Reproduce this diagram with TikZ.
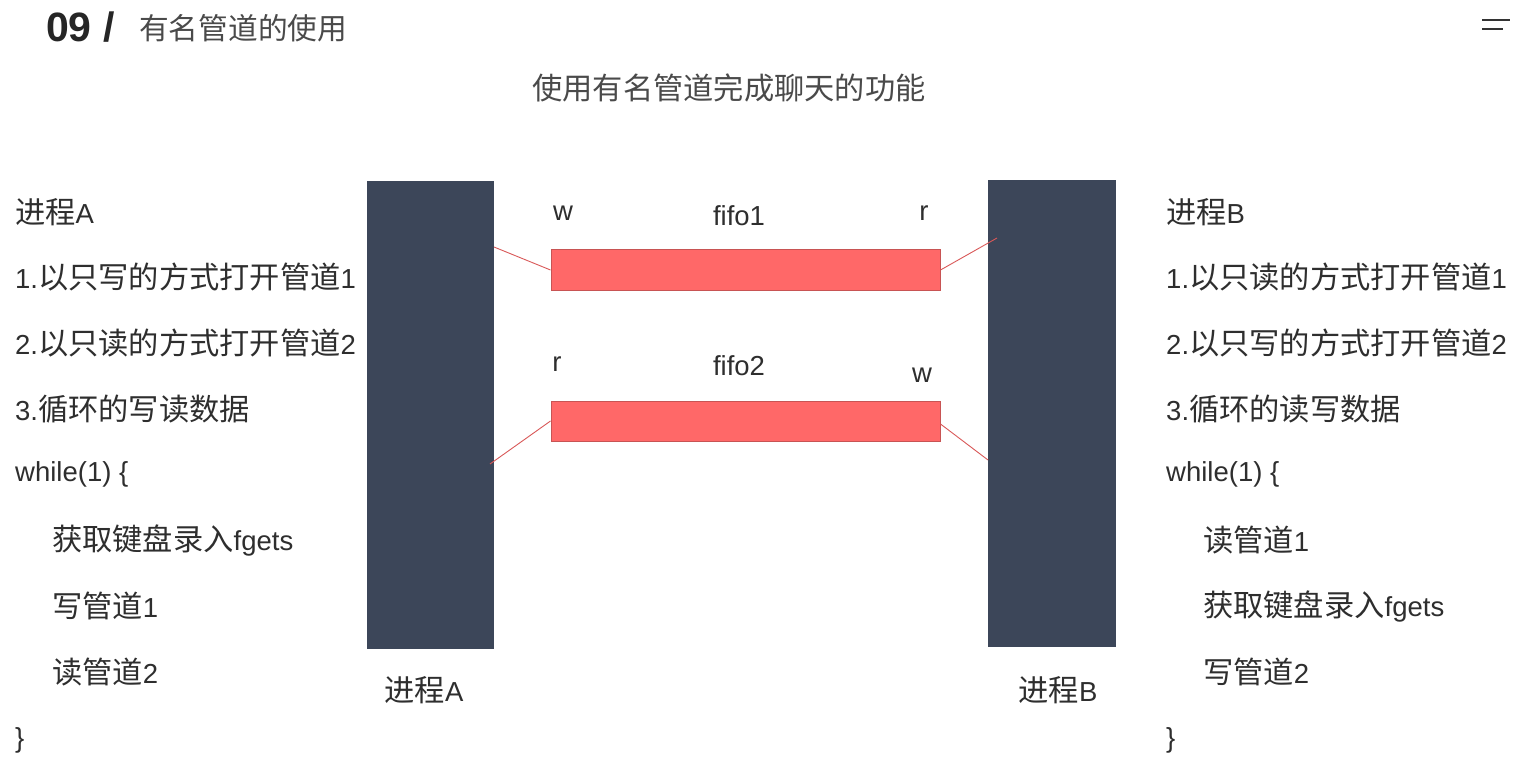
\documentclass[tikz,border=0pt]{standalone}
\usepackage{fontspec}
\setmainfont{Liberation Sans}
\newfontfamily\cjk[Scale=1.1]{Noto Sans CJK SC}
\newcommand\zh[1]{{\cjk #1}}
\definecolor{barcol}{HTML}{3C4659}
\definecolor{pipefill}{HTML}{FF6868}
\definecolor{pipeedge}{HTML}{C85454}
\definecolor{txt}{HTML}{2E2E2E}
\definecolor{ttl}{HTML}{4A4A4A}
\begin{document}
\begin{tikzpicture}[x=1pt,y=-1pt,
  txtnode/.style={inner sep=0pt,anchor=west,text=txt,font=\fontsize{27.5}{32}\selectfont},
  lbl/.style={inner sep=0pt,text=txt,font=\fontsize{27.5}{32}\selectfont},
  procbar/.style={draw=none,fill=barcol,minimum width=127pt,inner sep=0pt},
  pipebox/.style={draw=pipeedge,line width=1pt,fill=pipefill,minimum width=389pt,minimum height=40pt,inner sep=0pt},
  link/.style={draw=pipefill!85!black,line width=0.9pt}]
\useasboundingbox (0,0) rectangle (1516,762);
\fill[white] (0,0) rectangle (1516,762);
% title
\node[inner sep=0pt,anchor=west,text=black!85,font=\fontsize{41}{44}\selectfont\bfseries] (t0) at (46,27) {09\hspace{12pt}/};
\node[inner sep=0pt,anchor=west,text=ttl,font=\fontsize{27}{32}\selectfont] (t1) at (139,28) {\zh{有名管道的使用}};
\draw[line width=2pt,black!80] (1482,20) -- (1510,20);
\draw[line width=2pt,black!80] (1482,29) -- (1503,29);
\node[lbl,text=ttl] (sub) at (729,88) {\zh{使用有名管道完成聊天的功能}};
% bars
\node[procbar,minimum height=468pt] (barA) at (430.5,415) {};
\node[procbar,minimum height=467pt,minimum width=128pt] (barB) at (1052,413.5) {};
\node[lbl] (labA) at (424,690) {\zh{进程}A};
\node[lbl] (labB) at (1058,690) {\zh{进程}B};
% pipes
\node[pipebox] (fifo1) at (745.5,270) {};
\node[pipebox] (fifo2) at (745.5,421) {};
\node[lbl] (w1) at (563,213) {w};
\node[lbl] (f1) at (739,216) {fifo1};
\node[lbl] (r1) at (924,213) {r};
\node[lbl] (r2) at (557,364) {r};
\node[lbl] (f2) at (739,366) {fifo2};
\node[lbl] (w2) at (922,375) {w};
\coordinate (a1) at (494,247);
\coordinate (b1) at (997,238);
\coordinate (a2) at (490,464);
\coordinate (b2) at (988,460);
\draw[link] (fifo1.west) -- (a1);
\draw[link] (fifo1.east) -- (b1);
\draw[link] (fifo2.west) -- (a2);
\draw[link] ([yshift=-3pt]fifo2.east) -- (b2);
% left text
\node[txtnode] (la0) at (15,212) {\zh{进程}A};
\node[txtnode] (la1) at (15,277) {1.\zh{以只写的方式打开管道}1};
\node[txtnode] (la2) at (15,343) {2.\zh{以只读的方式打开管道}2};
\node[txtnode] (la3) at (15,409) {3.\zh{循环的写读数据}};
\node[txtnode] (la4) at (15,474) {while(1) \{};
\node[txtnode] (la5) at (52,540) {\zh{获取键盘录入}fgets};
\node[txtnode] (la6) at (52,606) {\zh{写管道}1};
\node[txtnode] (la7) at (52,672) {\zh{读管道}2};
\node[txtnode] (la8) at (15,740) {\}};
% right text
\node[txtnode] (rb0) at (1166,212) {\zh{进程}B};
\node[txtnode] (rb1) at (1166,277) {1.\zh{以只读的方式打开管道}1};
\node[txtnode] (rb2) at (1166,343) {2.\zh{以只写的方式打开管道}2};
\node[txtnode] (rb3) at (1166,409) {3.\zh{循环的读写数据}};
\node[txtnode] (rb4) at (1166,474) {while(1) \{};
\node[txtnode] (rb5) at (1203,540) {\zh{读管道}1};
\node[txtnode] (rb6) at (1203,606) {\zh{获取键盘录入}fgets};
\node[txtnode] (rb7) at (1203,672) {\zh{写管道}2};
\node[txtnode] (rb8) at (1166,740) {\}};
\end{tikzpicture}
\end{document}
